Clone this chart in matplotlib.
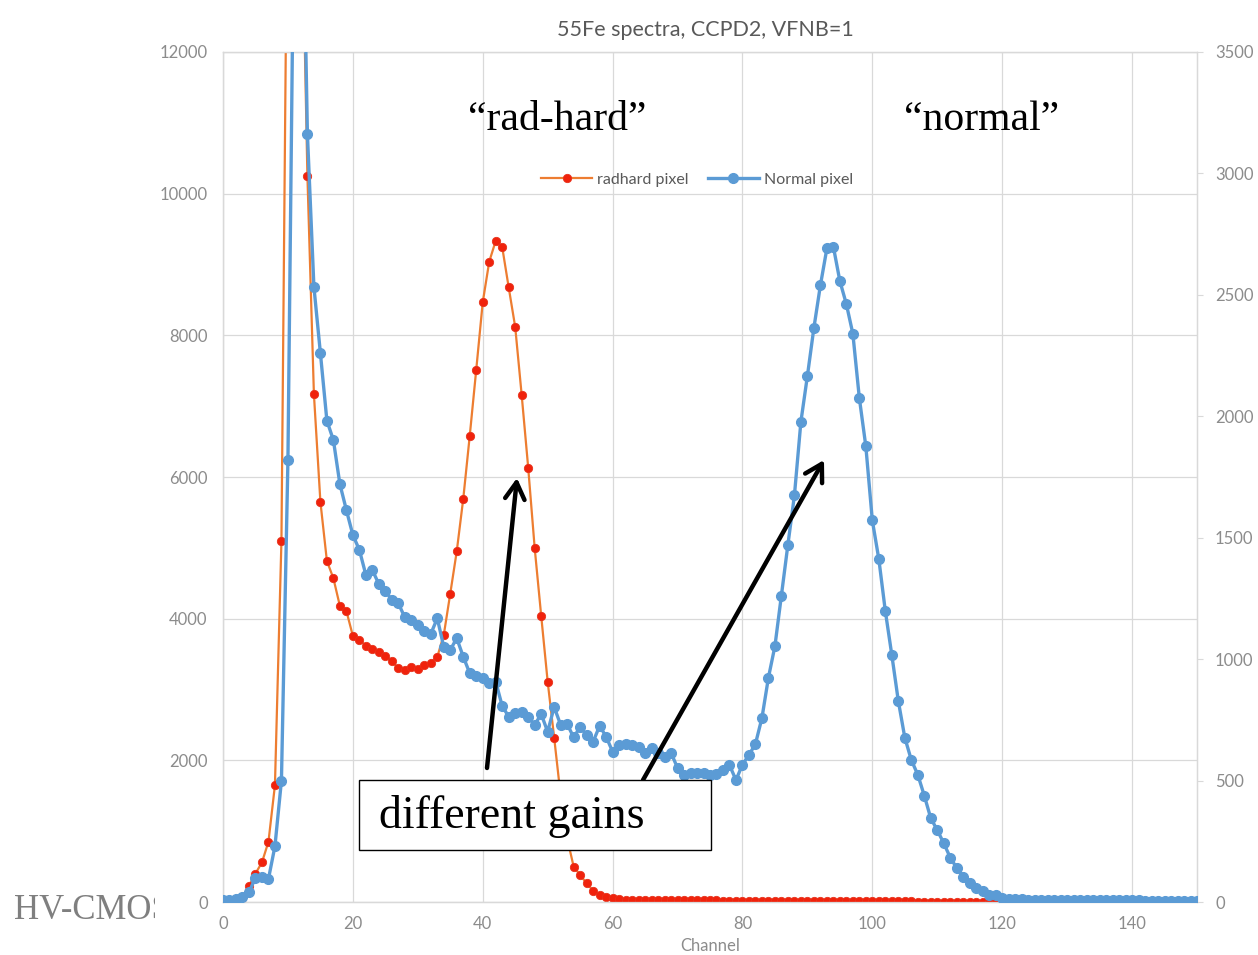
import matplotlib.pyplot as plt
from matplotlib.patches import Rectangle, FancyArrowPatch
from matplotlib.transforms import Bbox, TransformedBbox

# ------------------------------------------------------------------
# Data (channel 0..150)
# ------------------------------------------------------------------
channel = list(range(151))

radhard = [
    0, 0, 10, 60, 230, 400, 560, 850, 1650, 5100,
    15500, 19000, 14800, 10250, 7170, 5650, 4815, 4570, 4180, 4110,
    3756, 3700, 3620, 3570, 3530, 3480, 3400, 3300, 3270, 3320,
    3290, 3340, 3380, 3460, 3770, 4354, 4952, 5692, 6582, 7515,
    8466, 9040, 9334, 9245, 8676, 8119, 7155, 6134, 4998, 4044,
    3111, 2321, 1500, 900, 500, 380, 264, 160, 100, 70,
    50, 40, 35, 32, 30, 30, 28, 28, 27, 26,
    25, 25, 24, 24, 23, 22, 22, 21, 20, 20,
    20, 19, 19, 18, 18, 17, 17, 16, 16, 15,
    15, 14, 14, 13, 13, 12, 12, 11, 11, 10,
    10, 10, 9, 9, 8, 8, 8, 7, 7, 6,
    6, 6, 5, 5, 5, 4, 4, 4, 3, 3,
    3, 3, 3, 2, 2, 2, 2, 2, 2, 1,
    1, 1, 1, 1, 1, 1, 1, 1, 1, 1,
    1, 1, 1, 0, 0, 0, 0, 0, 0, 0,
    0,
]

normal = [
    10, 10, 12, 20, 40, 100, 105, 95, 230, 500,
    1820, 4300, 4600, 3163, 2533, 2260, 1982, 1902, 1721, 1614,
    1511, 1450, 1347, 1367, 1309, 1281, 1244, 1230, 1172, 1161,
    1141, 1117, 1104, 1168, 1051, 1038, 1086, 1010, 942, 930,
    922, 900, 907, 807, 763, 778, 784, 763, 729, 774,
    701, 803, 729, 733, 678, 720, 688, 660, 725, 681,
    619, 647, 651, 647, 640, 614, 634, 614, 598, 614,
    552, 523, 531, 531, 532, 523, 527, 545, 564, 502,
    566, 605, 651, 758, 924, 1054, 1262, 1472, 1674, 1978,
    2166, 2364, 2539, 2691, 2698, 2557, 2462, 2340, 2075, 1876,
    1571, 1412, 1198, 1017, 828, 677, 585, 524, 438, 345,
    296, 242, 183, 140, 104, 77, 56, 47, 29, 27,
    17, 14, 12, 11, 10, 10, 10, 9, 9, 9,
    9, 8, 8, 8, 8, 8, 7, 7, 7, 7,
    7, 7, 6, 6, 6, 6, 6, 6, 6, 5,
    5,
]

left_ticks = [0, 2000, 4000, 6000, 8000, 10000, 12000]
right_ticks = [0, 500, 1000, 1500, 2000, 2500, 3000, 3500]
x_ticks = [0, 20, 40, 60, 80, 100, 120, 140]

# ------------------------------------------------------------------
# Figure
# ------------------------------------------------------------------
W, H = 1258, 955
plt.rcParams["font.family"] = ["Lato", "DejaVu Sans"]


def px(x, y):
    """pixel position -> figure fraction"""
    return x / W, 1 - y / H


fig = plt.figure(figsize=(W / 100, H / 100), dpi=100)
fig.patch.set_facecolor("white")

x0, y0 = px(223, 902)
x1, y1 = px(1197, 52)
ax = fig.add_axes([x0, y0, x1 - x0, y1 - y0])
ax2 = ax.twinx()

grid_c = "#D9D9D9"
tick_c = "#8C8C8C"

ax.set_xlim(0, 150)
ax.set_ylim(0, 12000)
ax2.set_ylim(0, 3500)
ax.set_xticks(x_ticks)
ax.set_yticks(left_ticks)
ax2.set_yticks(right_ticks)
ax.grid(True, color=grid_c, lw=0.9)
ax.set_axisbelow(True)

for a in (ax, ax2):
    for s in a.spines.values():
        s.set_color(grid_c)
        s.set_linewidth(0.9)

ax.tick_params(axis="both", length=0, labelsize=12, labelcolor=tick_c)
ax.tick_params(axis="y", pad=11)
ax.tick_params(axis="x", pad=10)
ax2.tick_params(axis="y", length=4, color=grid_c, labelsize=12,
                labelcolor=tick_c, pad=9)

l1, = ax.plot(channel, radhard, color="#ED7D31", lw=1.6, marker="o",
              ms=6, mfc="#F0220C", mec="#E8321C", mew=0.6,
              label="radhard pixel", zorder=3)
l2, = ax2.plot(channel, normal, color="#5B9BD5", lw=2.4, marker="o",
               ms=7, mfc="#5B9BD5", mec="#5B9BD5", label="Normal pixel",
               zorder=3)

fig.legend(handles=[l1, l2], loc="center", bbox_to_anchor=px(697, 180),
           ncol=2, frameon=False, fontsize=11.5, labelcolor="#595959",
           handlelength=3.2, columnspacing=1.2, handletextpad=0.3)

# title and axis label
fig.text(*px(705, 30), "55Fe spectra, CCPD2, VFNB=1", ha="center",
         va="center", fontsize=15.5, color="#595959")
fig.text(*px(710, 946), "Channel", ha="center", va="center",
         fontsize=12, color=tick_c)

# annotations from the slide
serif = ["Liberation Serif", "DejaVu Serif"]
fig.text(*px(557, 120), "\u201crad-hard\u201d", ha="center", va="center",
         fontsize=30, family=serif, color="black")
fig.text(*px(982, 120), "\u201cnormal\u201d", ha="center", va="center",
         fontsize=30, family=serif, color="black")

for (xa, ya), (xb, yb) in [((487, 768), (517, 478)),
                           ((643, 780), (824, 460))]:
    arr = FancyArrowPatch(px(xa, ya), px(xb, yb), transform=fig.transFigure,
                          arrowstyle="->,head_length=0.6,head_width=0.35",
                          mutation_scale=20, lw=3.2, color="black",
                          shrinkA=0, shrinkB=0, zorder=5)
    fig.patches.append(arr)

bx0, by0 = px(359, 850)
bx1, by1 = px(711, 780)
box = Rectangle((bx0, by0), bx1 - bx0, by1 - by0, transform=fig.transFigure,
                facecolor="white", edgecolor="black", lw=1.0, zorder=6)
fig.patches.append(box)
fig.text(*px(379, 816), "different gains", ha="left", va="center",
         fontsize=33, family=serif, color="black", zorder=7)

hv = fig.text(*px(14, 910), "HV-CMOS", ha="left", va="center",
              fontsize=25, family=serif, color="#7F7F7F")
hv.set_clip_box(TransformedBbox(Bbox([[0, 0], [155 / W, 1]]),
                                fig.transFigure))
hv.set_clip_on(True)

fig.savefig("out.png", dpi=100)
